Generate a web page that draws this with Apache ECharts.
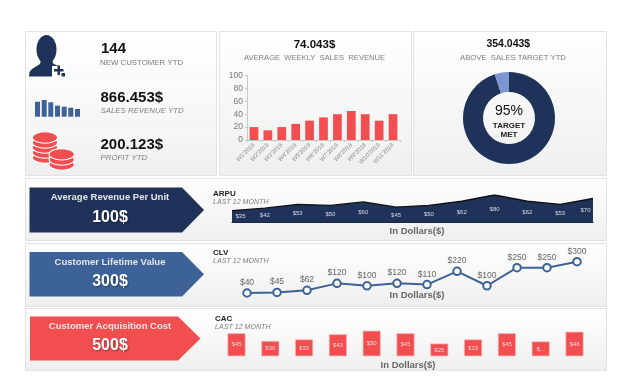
<!DOCTYPE html>
<html>
<head>
<meta charset="utf-8">
<style>html,body{margin:0;padding:0;background:#fff}#c{width:630px;height:380px}</style>
<script src="https://cdn.jsdelivr.net/npm/echarts@6/dist/echarts.min.js"></script>
</head>
<body>
<div id="c"></div>
<script>
const weeks = ["W1'2018","W2'2018","W3'2018","W4'2018","W5'2018","W6'2018","W7'2018","W8'2018","W9'2018","W10'2018","W11'2018"];
const weeklyRevenue = [20,15,20,25,30,35,40,45,40,30,40];
const targetMet = 95;
const targetRest = 5;
const months12 = ['M1','M2','M3','M4','M5','M6','M7','M8','M9','M10','M11','M12'];
const months11 = ['M1','M2','M3','M4','M5','M6','M7','M8','M9','M10','M11'];
const arpu = [35,42,53,50,60,45,50,62,80,62,53,70];
const clv = [40,45,62,120,100,120,110,220,100,250,250,300];
const cac = [45,30,33,43,50,45,25,33,45,29,48];
const cacLabels = ['$45','$30','$33','$43','$50','$45','$25','$33','$45','$...','$48'];

const NAVY='#1f3259', BLUE='#3c6298', RED='#f24e50', FONT='"Liberation Sans", Arial, sans-serif';
const panelFill = (a,b)=>({type:'linear',x:0,y:0,x2:0,y2:1,colorStops:[{offset:0,color:a},{offset:1,color:b}]});
const panel=(x,y,w,h,a='#ffffff',b='#efefef',stroke='#e2e2e2')=>({type:'rect',z:0,shape:{x,y,width:w,height:h},style:{fill:panelFill(a,b),stroke,lineWidth:1}});
const txt=(x,y,text,size,color,opt={})=>({type:'text',z:10,x,y,style:Object.assign({text,fontSize:size,fill:color,fontFamily:FONT,verticalAlign:'middle'},opt)});
const ctxt=(x,y,text,size,color,opt={})=>txt(x,y,text,size,color,Object.assign({align:'center'},opt));
const arrow=(x,s,t,y0,y1,c)=>({type:'polygon',z:3,shape:{points:[[x,y0],[s,y0],[t,(y0+y1)/2],[s,y1],[x,y1]]},style:{fill:c}});
const coin=(cx,cy,rx,ry)=>({type:'ellipse',z:5,shape:{cx,cy,rx,ry},style:{fill:RED,stroke:'#fff',lineWidth:1.1}});
const iconBars=[[35,15],[41.7,16.7],[48.3,14.4],[55,11],[61.7,10],[68.3,9],[75,7.7]].map(([x,h])=>({type:'rect',z:5,shape:{x:x,y:116.7-h,width:5,height:h},style:{fill:BLUE}}));
const shadow={textShadowColor:'rgba(0,0,0,0.35)',textShadowBlur:2,textShadowOffsetX:1,textShadowOffsetY:1};

const graphic=[
  panel(25.5,31.5,191,49,'#ffffff','#fafafa','none'),
  panel(25.5,80.5,191,47,'#fcfcfc','#f5f5f5','none'),
  panel(25.5,127.5,191,48,'#f7f7f7','#eeeeee','none'),
  {type:'rect',z:0,shape:{x:25.5,y:31.5,width:191,height:144},style:{fill:'none',stroke:'#e2e2e2',lineWidth:1}},
  panel(219.5,31.5,192,144),
  panel(413.5,31.5,193,144),
  panel(25.5,178.5,581,62),
  panel(25.5,243.5,581,63),
  panel(25.5,308.5,581,62),

  // person icon
  {type:'ellipse',z:5,shape:{cx:46.5,cy:49.5,rx:10,ry:14.5},style:{fill:NAVY}},
  {type:'polygon',z:5,shape:{points:[[41,60],[52,60],[53.5,64],[60,66.5],[64,69],[65.5,72],[66,76.5],[29,76.5],[29.5,72],[32,69],[36,66.5],[40,64]]},style:{fill:NAVY}},
  {type:'rect',z:6,shape:{x:52,y:66,width:14,height:11},style:{fill:'#fff'}},
  {type:'polygon',z:7,shape:{points:[[57.5,65.5],[60,65.5],[60,69],[63.5,69],[63.5,71.5],[60,71.5],[60,75],[57.5,75],[57.5,71.5],[54,71.5],[54,69],[57.5,69]]},style:{fill:NAVY}},
  {type:'rect',z:7,shape:{x:61.5,y:73,width:3.5,height:3.5},style:{fill:NAVY}},
  ...iconBars,
  // coins
  coin(45,157.5,12.7,5.7),coin(45,152.5,12.7,5.7),coin(45,147.5,12.7,5.7),coin(45,142.5,12.7,5.7),coin(45,137.5,12.7,5.7),
  coin(61.7,164.5,12.7,5.7),coin(61.7,159.5,12.7,5.7),coin(61.7,154.3,12.7,5.7),

  txt(101,49,'144',15,'#111',{fontWeight:'bold'}),
  txt(100,62.5,'NEW CUSTOMER YTD',7.85,'#7d7d7d'),
  txt(100.5,98,'866.453$',15,'#111',{fontWeight:'bold'}),
  txt(100.5,111.3,'SALES REVENUE YTD',7.85,'#7d7d7d',{fontStyle:'italic'}),
  txt(100.5,144.8,'200.123$',15,'#111',{fontWeight:'bold'}),
  txt(100.5,158,'PROFIT YTD',7.85,'#7d7d7d',{fontStyle:'italic'}),

  ctxt(314.5,45.3,'74.043$',11.5,'#111',{fontWeight:'bold'}),
  ctxt(314.5,57.5,'AVERAGE  WEEKLY  SALES  REVENUE',7.6,'#7d7d7d'),
  ctxt(508.3,44,'354.043$',10.5,'#111',{fontWeight:'bold'}),
  ctxt(513,57.5,'ABOVE  SALES TARGET YTD',7.7,'#7d7d7d'),
  ctxt(509,111,'95%',14,'#111'),
  ctxt(509,126,'TARGET',8,'#222',{fontWeight:'bold'}),
  ctxt(509,135,'MET',8,'#222',{fontWeight:'bold'}),

  arrow(29.5,182,204,187.5,232.5,NAVY),
  arrow(29.5,182,204,252,296.5,BLUE),
  arrow(30,178,200.5,316.5,360.5,RED),
  ctxt(110,197,'Average Revenue Per Unit',9.5,'#e6e6e6',{fontWeight:'bold'}),
  ctxt(110,218,'100$',16,'#fff',Object.assign({fontWeight:'bold'},shadow)),
  ctxt(110,262,'Customer Lifetime Value',9.5,'#e6e6e6',{fontWeight:'bold'}),
  ctxt(110,282,'300$',16,'#fff',Object.assign({fontWeight:'bold'},shadow)),
  ctxt(110,326,'Customer Acquisition Cost',9.5,'#f3e6e6',{fontWeight:'bold'}),
  ctxt(110,346,'500$',16,'#fff',Object.assign({fontWeight:'bold'},shadow)),

  txt(213,193.3,'ARPU',8,'#222',{fontWeight:'bold'}),
  txt(213,202.3,'LAST 12 MONTH',7.1,'#7d7d7d',{fontStyle:'italic'}),
  txt(213,252.8,'CLV',8,'#222',{fontWeight:'bold'}),
  txt(213,261.3,'LAST 12 MONTH',7.1,'#7d7d7d',{fontStyle:'italic'}),
  txt(215,319,'CAC',8,'#222',{fontWeight:'bold'}),
  txt(215,327.5,'LAST 12 MONTH',7.1,'#7d7d7d',{fontStyle:'italic'}),
  ctxt(417,231.7,'In Dollars($)',9.5,'#666',{fontWeight:'bold'}),
  ctxt(417,295,'In Dollars($)',9.5,'#666',{fontWeight:'bold'}),
  ctxt(408,365,'In Dollars($)',9.5,'#666',{fontWeight:'bold'})
];

const hiddenY=(i,max)=>({type:'value',gridIndex:i,min:0,max,show:false});
const hiddenX=(i,data,gap)=>({type:'category',gridIndex:i,data,boundaryGap:gap,show:false});

const option={
  animation:false,
  backgroundColor:'#fff',
  textStyle:{fontFamily:FONT},
  graphic:{elements:graphic},
  grid:[
    {left:247,top:75.5,width:153,height:64.5},
    {left:232,top:195,width:361,height:27.7},
    {left:232,top:261.7,width:360,height:36.1},
    {left:219.6,top:330.7,width:371.8,height:25.6}
  ],
  xAxis:[
    {type:'category',gridIndex:0,data:weeks,
     axisLine:{lineStyle:{color:'#c8c8c8'}},axisTick:{show:true,lineStyle:{color:'#c8c8c8'},length:2},
     axisLabel:{rotate:45,fontSize:6,color:'#8a8a8a',interval:0,margin:4,fontFamily:FONT}},
    {type:'category',gridIndex:1,data:months12,boundaryGap:false,axisLine:{lineStyle:{color:'#111',width:1}},axisTick:{show:false},axisLabel:{show:false}},
    hiddenX(2,months12,true),hiddenX(3,months11,true)
  ],
  yAxis:[
    {type:'value',gridIndex:0,min:0,max:100,interval:20,splitLine:{show:false},
     axisLine:{show:true,lineStyle:{color:'#c8c8c8'}},axisTick:{show:true,length:2,lineStyle:{color:'#c8c8c8'}},
     axisLabel:{fontSize:8.5,color:'#777',margin:4,fontFamily:FONT}},
    hiddenY(1,80),hiddenY(2,300),hiddenY(3,50)
  ],
  series:[
    {type:'bar',xAxisIndex:0,yAxisIndex:0,data:weeklyRevenue,barWidth:8.7,itemStyle:{color:RED}},
    {type:'pie',center:[509,118],radius:[26,46],startAngle:90,clockwise:true,silent:true,label:{show:false},labelLine:{show:false},
     data:[{value:targetMet,itemStyle:{color:NAVY}},{value:targetRest,itemStyle:{color:'#7b96d0'}}]},
    {type:'line',xAxisIndex:1,yAxisIndex:1,data:arpu,showSymbol:false,symbol:'none',
     lineStyle:{color:'#111',width:1.4},areaStyle:{color:NAVY,opacity:1}},
    {type:'line',xAxisIndex:1,yAxisIndex:1,symbol:'circle',symbolSize:1,showSymbol:true,showAllSymbol:true,itemStyle:{color:'transparent'},lineStyle:{width:0,color:'transparent'},z:4,
     data:arpu.map((v,i)=>({value:v/2,label:{show:true,position:i===0?'right':i===arpu.length-1?'left':'inside',
        distance:i===0?3:2,formatter:'$'+v,fontSize:6,color:'#d8dce6',fontFamily:FONT}}))},
    {type:'line',xAxisIndex:2,yAxisIndex:2,data:clv,symbol:'circle',symbolSize:7.5,showSymbol:true,
     lineStyle:{color:BLUE,width:2},itemStyle:{color:'#fff',borderColor:BLUE,borderWidth:2},
     label:{show:true,position:'top',distance:1,formatter:p=>'$'+p.value,fontSize:8.5,color:'#666',fontFamily:FONT}},
    {type:'bar',xAxisIndex:3,yAxisIndex:3,data:cac,barWidth:18,
     itemStyle:{color:RED,borderColor:'#f9b5b6',borderWidth:0.7},
     label:{show:true,position:'inside',formatter:p=>cacLabels[p.dataIndex],fontSize:6,color:'#f6d5d5',fontFamily:FONT}}
  ]
};
const chart=echarts.init(document.getElementById('c'),null,{renderer:'canvas'});
chart.setOption(option);
</script>
</body>
</html>
